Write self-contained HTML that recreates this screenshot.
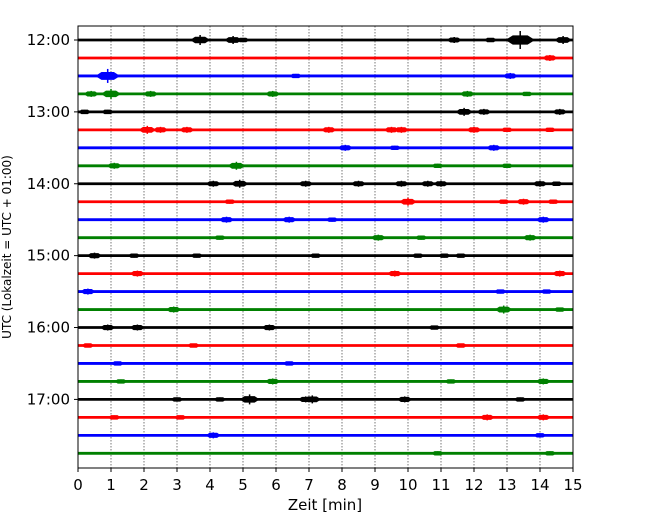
<!DOCTYPE html>
<html><head><meta charset="utf-8"><style>
body{margin:0;background:#fff}
svg{display:block;font-family:"DejaVu Sans","Liberation Sans",sans-serif}
</style></head><body>
<svg id="chart" width="650" height="520">
<rect x="0" y="0" width="650" height="520" fill="#fff"/>
<g id="grid"></g><g id="traces"></g><g id="axes"></g>
</svg>
<script>
const hourLabels = ["12:00","13:00","14:00","15:00","16:00","17:00"];
const xTicks = [0,1,2,3,4,5,6,7,8,9,10,11,12,13,14,15];
const traceColors = ["#000000","#ff0000","#0000ff","#008000"];
const traceCount = 24;
// events: [traceIndex, minute, amplitude(px)]
const eventTrace = [0,0,0,0,0,0,0, 1, 2,2,2, 3,3,3,3,3,3, 4,4,4,4,4, 5,5,5,5,5,5,5,5,5, 6,6,6, 7,7,7,7, 8,8,8,8,8,8,8,8,8, 9,9,9,9,9, 10,10,10,10, 11,11,11,11, 12,12,12,12,12,12,12, 13,13,13, 14,14,14, 15,15,15, 16,16,16,16, 17,17,17, 18,18, 19,19,19,19, 20,20,20,20,20,20,20, 21,21,21,21, 22,22, 23,23];
const eventMinute = [3.7,4.7,5.0,13.4,14.7,11.4,12.5, 14.3, 0.9,6.6,13.1, 1.0,0.4,2.2,5.9,11.8,13.6, 0.2,0.9,11.7,12.3,14.6, 2.1,2.5,3.3,7.6,9.5,9.8,12.0,13.0,14.3, 8.1,12.6,9.6, 1.1,4.8,10.9,13.0, 4.1,4.9,6.9,8.5,9.8,10.6,11.0,14.0,14.5, 4.6,10.0,12.9,13.5,14.4, 4.5,6.4,7.7,14.1, 4.3,9.1,10.4,13.7, 0.5,1.7,3.6,7.2,10.3,11.1,11.6, 1.8,9.6,14.6, 0.3,12.8,14.2, 2.9,12.9,14.6, 0.9,1.8,5.8,10.8, 0.3,3.5,11.6, 1.2,6.4, 1.3,5.9,11.3,14.1, 3.0,5.2,6.9,7.1,9.9,4.3,13.4, 1.1,3.1,12.4,14.1, 4.1,14.0, 10.9,14.3];
const eventAmp = [5,4,2,9,4,3,2, 3, 7,2,3, 5,3,3,3,3,2, 2,2,4,3,3, 4,3,3,3,3,3,3,2,2, 3,3,2, 3,4,2,2, 3,4,3,3,3,3,3,3,2, 2,4,2,3,2, 3,3,2,3, 2,3,2,3, 3,2,2,2,2,2,2, 3,3,3, 3,2,2, 3,4,2, 3,3,3,2, 2,2,2, 2,2, 2,3,2,3, 2,5,3,4,3,2,2, 2,2,3,3, 3,2, 2,2];

const NS="http://www.w3.org/2000/svg";
const L=78, R=573, T=26, B=468, y0=40, dy=17.97;
const xS = m => L + (R-L)*m/15;
const yS = i => y0 + i*dy;
function mk(tag, attrs, parent){const e=document.createElementNS(NS,tag);for(const k in attrs)e.setAttribute(k,attrs[k]);parent.appendChild(e);return e;}
const grid=document.getElementById('grid'), tr=document.getElementById('traces'), ax=document.getElementById('axes');
xTicks.forEach(t=>{ if(t>0&&t<15){
  const g=mk('line',{x1:xS(t),x2:xS(t),y1:T,y2:B,stroke:'#555','stroke-width':0.8,'stroke-dasharray':'1.5,1.5'},grid);
  
  
}});
for(let i=0;i<traceCount;i++){
  const c=traceColors[i%4];
  const ln=mk('line',{x1:L,x2:R,y1:yS(i),y2:yS(i),stroke:c,'stroke-width':2.8},tr);
  
  
}
eventMinute.forEach((m,k)=>{
  const i=eventTrace[k], a=eventAmp[k], x=xS(m), y=yS(i), w=4+a*1.2, h=1.5+a*0.35;
  const p=mk('polygon',{points:`${x-w},${y} ${x-w*0.5},${y-h} ${x+w*0.5},${y-h} ${x+w},${y} ${x+w*0.5},${y+h} ${x-w*0.5},${y+h}`,fill:traceColors[i%4]},tr);
  
  
  const s=mk('line',{x1:x,x2:x,y1:y-a,y2:y+a,stroke:traceColors[i%4],'stroke-width':1.5},tr);
  
  
});
const fr=mk('rect',{x:L,y:T,width:R-L,height:B-T,fill:'none',stroke:'#000','stroke-width':1},ax);


xTicks.forEach(t=>{
  mk('line',{x1:xS(t),x2:xS(t),y1:B,y2:B+4,stroke:'#000'},ax);
  const tx=mk('text',{x:xS(t),y:B+22,'text-anchor':'middle','font-size':15},ax);
  tx.textContent=t;
  
  
});
hourLabels.forEach((h,j)=>{
  const y=yS(j*4);
  mk('line',{x1:L-4,x2:L,y1:y,y2:y,stroke:'#000'},ax);
  const tx=mk('text',{x:L-8,y:y+5,'text-anchor':'end','font-size':15},ax);
  tx.textContent=h;
  
  
});
const xl=mk('text',{x:325,y:510,'text-anchor':'middle','font-size':15,'xml:space':'preserve'},ax);
xl.textContent='Zeit  [min]';


const yl=mk('text',{x:0,y:0,'text-anchor':'middle','font-size':12,transform:'translate(11,247) rotate(-90)'},ax);
yl.textContent='UTC (Lokalzeit = UTC + 01:00)';


</script>
</body></html>
